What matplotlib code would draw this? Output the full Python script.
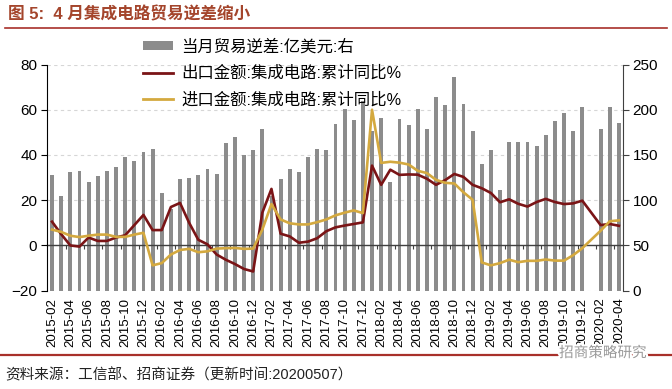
import numpy as np
import pandas as pd
import matplotlib
matplotlib.use("Agg")
import matplotlib.pyplot as plt
import matplotlib.patheffects as pe
from matplotlib.lines import Line2D
from matplotlib.patches import Patch

plt.rcParams["font.family"] = ["Liberation Sans", "Noto Sans CJK SC"]

# monthly categories 2015-02 .. 2020-04
MONTHS = [p.strftime("%Y-%m") for p in pd.period_range("2015-02", "2020-04", freq="M")]

# 当月贸易逆差 (亿美元, right axis)
DEFICIT = [
    128, 105, 131, 132, 120, 127, 132, 137, 148, 143, 153,          # 2015
    157, 108, 90, 123, 125, 128, 134, 129, 163, 170, 150, 156,      # 2016
    179, 105, 124, 135, 131, 148, 157, 156, 184, 201, 189, 210,     # 2017
    176, 191, 120, 190, 183, 201, 179, 214, 205, 236, 206, 177,     # 2018
    140, 156, 111, 164, 164, 164, 160, 172, 188, 196, 177, 203,     # 2019
    np.nan, 179, 203, 185,                                          # 2020
]

# 出口金额:集成电路:累计同比 (%)
EXPORT_YOY = [
    10.5, 5.0, 0.0, -0.5, 3.5, 2.0, 2.0, 3.5, 4.5, 9.0, 13.5,
    6.8, 6.8, 17.0, 18.8, 10.0, 2.5, 0.5, -4.0, -6.3, -8.2, -10.4, -11.5,
    14.5, 25.0, 5.2, 4.0, 1.2, 1.7, 3.2, 6.3, 8.0, 8.8, 9.5, 10.2,
    35.3, 26.8, 33.5, 31.2, 31.4, 31.3, 29.5, 26.8, 28.9, 31.6, 30.3, 26.8,
    25.3, 23.2, 19.1, 20.4, 18.4, 17.2, 19.2, 20.6, 19.2, 18.3, 18.6, 19.8,
    np.nan, 9.0, 9.5, 8.7,
]

# 进口金额:集成电路:累计同比 (%)
IMPORT_YOY = [
    7.0, 6.0, 4.3, 3.7, 4.3, 4.8, 4.8, 3.8, 3.8, 4.8, 5.6,
    -8.8, -7.8, -4.0, -2.0, -1.5, -3.0, -2.6, -1.4, -1.2, -1.1, -1.5, -1.4,
    7.0, 18.3, 11.5, 9.8, 9.3, 9.3, 10.3, 11.5, 13.3, 14.5, 15.5, 14.3,
    60.0, 36.5, 37.0, 36.6, 35.8, 33.0, 32.0, 29.0, 27.7, 27.4, 23.5, 20.2,
    -7.5, -8.8, -7.8, -6.3, -7.4, -6.8, -6.8, -6.2, -6.7, -6.7, -4.3, -1.2,
    np.nan, 6.5, 10.7, 11.1,
]

LABELS = ["当月贸易逆差:亿美元:右", "出口金额:集成电路:累计同比%", "进口金额:集成电路:累计同比%"]

BAR_COLOR = "#8C8C8C"
EXPORT_COLOR = "#7A1416"
IMPORT_COLOR = "#D4A93F"
TITLE_COLOR = "#A4452C"
RULE_COLOR = "#A8302A"
AXIS_COLOR = "#404040"

W, H = 672, 389
fig = plt.figure(figsize=(W / 100, H / 100), dpi=100)
ax = fig.add_axes([47 / W, 1 - 290.7 / H, (623 - 47) / W, (290.7 - 64.5) / H])
axr = ax.twinx()
ax.set_zorder(axr.get_zorder() + 1)
ax.patch.set_visible(False)

x = np.arange(len(MONTHS))

# bars on the right axis
axr.bar(x, DEFICIT, width=0.42, color=BAR_COLOR, zorder=2)
axr.set_ylim(0, 250)
axr.set_yticks(range(0, 251, 50))
axr.yaxis.grid(True, ls=(0, (3, 3)), color="#D6D6D6", lw=0.8)
axr.set_axisbelow(True)
for s in ["top", "left", "bottom"]:
    axr.spines[s].set_visible(False)
axr.spines["right"].set_color(AXIS_COLOR)
axr.tick_params(axis="y", direction="out", length=4, width=0.8, color=AXIS_COLOR,
                labelsize=11, pad=3)

# lines on the left axis (Jan-2020 missing -> connect across)
exp = np.array(EXPORT_YOY)
imp = np.array(IMPORT_YOY)
ok = ~np.isnan(exp)
ax.plot(x[ok], exp[ok], color=EXPORT_COLOR, lw=1.9, zorder=3)
ax.plot(x[ok], imp[ok], color=IMPORT_COLOR, lw=1.9, zorder=3)
ax.set_ylim(-20, 80)
ax.set_yticks(range(-20, 81, 20))
ax.set_xlim(-0.55, 62.45)
for s in ["top", "right", "bottom"]:
    ax.spines[s].set_visible(False)
ax.spines["left"].set_color("black")
ax.tick_params(axis="y", direction="out", length=4, width=0.8, labelsize=11, pad=3)

ax.set_xticks(x[::2])
ax.set_xticklabels(MONTHS[::2], rotation=90, fontsize=9.5)
ax.tick_params(axis="x", length=0, pad=5)

# zero line with small category ticks
zero = ax.secondary_xaxis(0.2)
zero.set_xticks(np.arange(1.5, 62, 2))
zero.tick_params(axis="x", direction="out", length=3, width=0.8, color=AXIS_COLOR,
                 labelbottom=False)
zero.spines["bottom"].set_color(AXIS_COLOR)
zero.spines["bottom"].set_linewidth(1.0)

handles = [
    Patch(facecolor=BAR_COLOR, label=LABELS[0]),
    Line2D([], [], color=EXPORT_COLOR, lw=2, label=LABELS[1]),
    Line2D([], [], color=IMPORT_COLOR, lw=2, label=LABELS[2]),
]
fig.legend(handles=handles, loc="upper left", bbox_to_anchor=(143 / W, 1 - 39 / H),
           frameon=False, fontsize=11.8, handlelength=1.85, handleheight=0.5,
           handletextpad=0.5, labelspacing=0.68, borderpad=0, borderaxespad=0)

# title, rules, source
fig.text(8 / W, 1 - 14 / H, "图 5:  4 月集成电路贸易逆差缩小", color=TITLE_COLOR,
         fontsize=12, fontweight="bold", va="center")
fig.add_artist(Line2D([5 / W, 667 / W], [1 - 28 / H] * 2, transform=fig.transFigure,
                      color=RULE_COLOR, lw=1.2))
fig.add_artist(Line2D([0, 1], [1 - 355 / H] * 2, transform=fig.transFigure,
                      color=RULE_COLOR, lw=1.6))
fig.text(5 / W, 1 - 375 / H, "资料来源：工信部、招商证券（更新时间:20200507）",
         fontsize=10.5, va="center", color="#222222")
fig.text(603 / W, 1 - 353 / H, "招商策略研究", fontsize=10.5, ha="center", va="center",
         color="#9A9A9A", path_effects=[pe.withStroke(linewidth=3, foreground="white")])

fig.savefig("out.png", dpi=100)
